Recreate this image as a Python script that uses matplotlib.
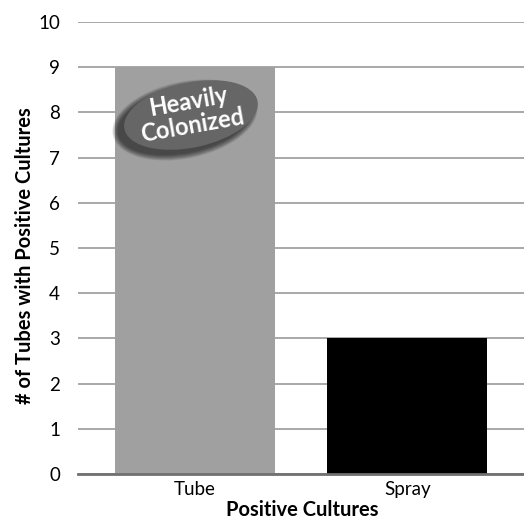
import matplotlib
matplotlib.use("Agg")
import matplotlib.pyplot as plt
from matplotlib.patches import Ellipse

categories = ["Tube", "Spray"]
values = [9, 3]
bar_colors = ["#a0a0a0", "#000000"]
yticks = [0, 1, 2, 3, 4, 5, 6, 7, 8, 9, 10]
ytick_labels = ["0", "1", "2", "3", "4", "5", "6", "7", "8", "9", "10"]
annotation = "Heavily\nColonized"

plt.rcParams['font.family'] = ['Lato', 'DejaVu Sans']

W, H = 524, 521
fig = plt.figure(figsize=(W/100, H/100), dpi=100)
ax = fig.add_axes([78/W, 1-474/H, 1-78/W, (474-22)/H])

x = list(range(len(categories)))
ax.bar(x, values, width=0.755, color=bar_colors, zorder=2)
ax.set_xlim(-0.55, 1.55)
ax.set_ylim(0, 10)
ax.set_yticks(yticks)
ax.set_yticklabels(ytick_labels, fontsize=13.5)
ax.set_xticks(x)
ax.set_xticklabels(categories, fontsize=13.5)
ax.yaxis.grid(True, color="#9a9a9a", linewidth=1.2, zorder=0)
ax.set_axisbelow(True)
for s in ["top", "right", "left"]:
    ax.spines[s].set_visible(False)
ax.spines["bottom"].set_color("#707070")
ax.spines["bottom"].set_linewidth(2)
ax.spines["bottom"].set_zorder(3)
ax.tick_params(axis="y", length=0, pad=13)
ax.tick_params(axis="x", length=0, pad=5)

pix = fig.dpi_scale_trans  # inches
fig.text(302/100, 1/100, "Positive Cultures", transform=pix, ha="center", va="bottom",
         fontsize=14.5, fontweight="bold")
fig.text(25/100, (H-256)/100, "# of Tubes with Positive Cultures", transform=pix, ha="center",
         va="center", rotation=90, fontsize=14.5, fontweight="bold")

# annotation ellipse with soft shadow (figure inch coordinates)
cx, cy = 1.91, (H-115)/100
for i in range(14):
    e = Ellipse((cx - 0.06, cy - 0.05), 1.36 + 0.12 - i*0.009, 0.65 + 0.12 - i*0.009,
                angle=12, transform=pix, facecolor="black", alpha=0.05, edgecolor="none", zorder=4)
    fig.patches.append(e)
fig.patches.append(Ellipse((cx, cy), 1.36, 0.65, angle=12, transform=pix,
                           facecolor="#666666", edgecolor="none", zorder=5))
fig.text(cx - 0.01, cy + 0.01, annotation, transform=pix, ha="center", va="center", rotation=10,
         color="white", fontsize=17, fontweight="bold", linespacing=1.05, zorder=6)

fig.savefig("out.png", dpi=100)
